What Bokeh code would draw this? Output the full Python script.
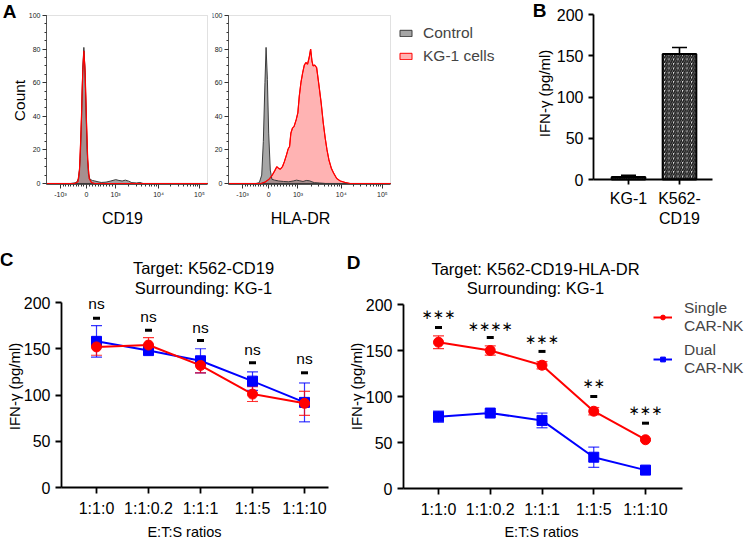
import math
from bokeh.plotting import figure
from bokeh.layouts import row, column
from bokeh.models import (BoxAnnotation, ColumnDataSource, FixedTicker, Label, Legend,
                          LegendItem, LinearAxis, Range1d, TeeHead, Whisker)
from bokeh.core.properties import value
from bokeh.embed import file_html
from bokeh.resources import INLINE

# ---------------- data ----------------
# Panel A: flow histograms; x = display channel (0-1000, biexponential), y = count
hist_tick_pos = [87, 248, 429, 696, 950]
hist_tick_labels = ["-10³", "0", "10³", "10⁴", "10⁵"]
count_ticks = [0, 20, 40, 60, 80, 100]
hist_series = ["Control", "KG-1 cells"]

cd19_ctrl_ch = [0, 150, 185, 200, 210, 218, 225, 232, 238, 245, 252, 260, 270, 285, 300, 320,
                340, 370, 400, 430, 450, 470, 490, 510, 530, 560, 580, 600, 1000]
cd19_ctrl_n = [0, 0, 0.5, 3, 15, 40, 68, 81, 70, 45, 20, 6, 2.5, 1.8, 1.5, 1.0,
               0.6, 0.8, 1.5, 2.3, 1.8, 1.5, 2.0, 1.4, 0.5, 0.3, 0.6, 0, 0]
cd19_kg1_ch = [0, 175, 195, 205, 215, 225, 232, 240, 248, 256, 265, 280, 300, 1000]
cd19_kg1_n = [0, 0, 1, 8, 32, 66, 79, 66, 38, 14, 3, 0.5, 0, 0]

hla_ctrl_ch = [0, 170, 190, 205, 215, 225, 232, 240, 248, 258, 268, 285, 310, 340, 370, 400,
               420, 440, 460, 480, 500, 515, 530, 560, 600, 1000]
hla_ctrl_n = [0, 0, 0.5, 5, 25, 60, 81, 62, 30, 8, 2.5, 2, 1.5, 1.2, 1.0, 1.5,
              2.0, 1.6, 1.2, 1.8, 1.6, 1.0, 0.5, 0.3, 0, 0]
hla_kg1_ch = [0, 200, 225, 250, 270, 285, 298, 310, 320, 333, 345, 358, 368, 377, 385, 395,
              405, 418, 428, 437, 447, 458, 468, 478, 488, 498, 507, 515, 522, 532, 544, 559,
              572, 585, 597, 608, 620, 635, 650, 668, 690, 720, 750, 1000]
hla_kg1_n = [0, 0, 0.8, 2.5, 5, 7.5, 10, 9, 8.5, 10, 13, 17, 20.5, 22, 30, 33,
             34, 38, 42, 52, 60, 66, 70.5, 72, 71, 75, 80, 73, 70, 70.5, 69, 58,
             48, 36, 27, 20, 14, 9, 6, 3, 1.5, 0.6, 0, 0]

# Panel B
b_groups = ["KG-1", "K562-\nCD19"]
b_ifng = [3, 152]
b_err = [2, 8]

# Panels C and D
ratios = ["1:1:0", "1:1:0.2", "1:1:1", "1:1:5", "1:1:10"]
ifng_ticks = [0, 50, 100, 150, 200]
series_names = ["Single\nCAR-NK", "Dual\nCAR-NK"]

c_single = [152, 154, 132, 101, 91]
c_single_err = [9, 8, 8, 8, 13]
c_dual = [158, 148, 137, 115, 92]
c_dual_err = [17, 3, 13, 10, 21]
c_sig = ["ns", "ns", "ns", "ns", "ns"]
c_sig_y = [199, 185, 173, 149, 139]
c_bar_y = [183, 170, 159, 135, 124]

d_single = [159, 150, 134, 84, 53]
d_single_err = [7, 5, 4, 4, 1]
d_dual = [78, 82, 74, 34, 20]
d_dual_err = [6, 1.5, 8, 11, 1]
d_sig = ["∗∗∗", "∗∗∗∗", "∗∗∗", "∗∗", "∗∗∗"]
d_sig_y = [190, 177, 163, 115, 85]
d_bar_y = [175, 164, 149, 100, 71]

# ---------------- layout helpers ----------------
FONT = "Liberation Sans"
RED = "#ff0000"
BLUE = "#0000ff"
TOP = 228
BOT = 540
RIGHT = 744


def fs(v):
    return f"{v:.1f}px"


def make_fig(X0, X1, Y0, Y1, xmap, ymap):
    """Figure whose frame fills the canvas; xmap/ymap = ((data, px), (data, px))."""
    (xa, rxa), (xb, rxb) = xmap
    (ya, rya), (yb, ryb) = ymap
    kx = (xb - xa) / (rxb - rxa)
    ky = (yb - ya) / (ryb - rya)
    p = figure(width=X1 - X0, height=Y1 - Y0,
               x_range=Range1d(xa + (X0 - rxa) * kx, xa + (X1 - rxa) * kx),
               y_range=Range1d(ya + (Y1 - rya) * ky, ya + (Y0 - rya) * ky),
               x_axis_location=None, y_axis_location=None, title=None,
               output_backend="svg", toolbar_location=None,
               min_border_left=0, min_border_right=0, min_border_top=0, min_border_bottom=0)
    for g in p.grid:
        g.visible = False
    p.outline_line_color = None
    p.background_fill_color = None
    p.border_fill_color = None

    def to_data(rx, ry):
        return xa + (rx - rxa) * kx, ya + (ry - rya) * ky

    def to_screen(rx, ry):
        return (rx - X0), (Y1 - ry)

    return p, to_data, to_screen


def add_text(p, to_data, rx, ry, text, size, bold=False, angle=0.0, font=FONT):
    x, y = to_data(rx, ry)
    p.add_layout(Label(x=x, y=y, text=text, text_font=font, text_font_size=fs(size),
                       text_font_style="bold" if bold else "normal", angle=angle,
                       text_align="center", text_baseline="middle", text_color="black"))


def add_axes(p, x_at, x_bounds, y_at, y_bounds, xticker, yticker, style):
    xa = LinearAxis(fixed_location=x_at, bounds=x_bounds, ticker=xticker)
    ya = LinearAxis(fixed_location=y_at, bounds=y_bounds, ticker=yticker)
    for ax in (xa, ya):
        for k, v in style.items():
            setattr(ax, k, v)
    p.add_layout(xa, "below")
    p.add_layout(ya, "left")
    return xa, ya


# ---------------- panel A ----------------
hist_minor = []
for k in range(1, 10):
    hist_minor.append(hist_tick_pos[1] - (hist_tick_pos[1] - hist_tick_pos[0]) * k / 10)
    hist_minor.append(hist_tick_pos[1] + (hist_tick_pos[2] - hist_tick_pos[1]) * k / 10)
for k in range(2, 10):
    hist_minor.append(hist_tick_pos[2] + (hist_tick_pos[3] - hist_tick_pos[2]) * math.log10(k))
    hist_minor.append(hist_tick_pos[3] + (hist_tick_pos[4] - hist_tick_pos[3]) * math.log10(k))

hist_style = dict(axis_line_color="#555555", major_tick_line_color="#333333",
                  minor_tick_line_color="#333333", major_tick_in=0, major_tick_out=4,
                  minor_tick_in=0, minor_tick_out=2, major_label_text_font=FONT,
                  major_label_text_font_size=fs(7), major_label_text_color="#222222",
                  major_label_standoff=2)


def hist_fig(X0, X1, fl, fr, ctrl_x, ctrl_y, kg_x, kg_y):
    p, to_data, to_screen = make_fig(X0, X1, 0, TOP, ((0, fl), (1000, fr)),
                                     ((-0.6, 184), (100, 15)))
    r_kg = p.patch(kg_x, kg_y, fill_color="#ffb3b3", line_color=RED, line_width=1)
    r_ct = p.patch(ctrl_x, ctrl_y, fill_color="#808080", fill_alpha=0.7,
                   line_color="#3a3a3a", line_width=1)
    p.line(kg_x, kg_y, line_color=RED, line_width=1.2)
    p.add_layout(BoxAnnotation(left=0, right=1000, bottom=-0.6, top=100, fill_alpha=0,
                               line_color="#9a9a9a", line_width=1, level="underlay"))
    xa, ya = add_axes(p, -0.6, (0, 1000), 0, (-0.6, 100),
                      FixedTicker(ticks=hist_tick_pos, minor_ticks=hist_minor),
                      FixedTicker(ticks=count_ticks, minor_ticks=list(range(0, 101, 5))),
                      hist_style)
    xa.major_label_overrides = {t: l for t, l in zip(hist_tick_pos, hist_tick_labels)}
    return p, to_data, to_screen, r_ct, r_kg


pA1, dA1, sA1, _, _ = hist_fig(0, 212, 46, 207, cd19_ctrl_ch, cd19_ctrl_n,
                               cd19_kg1_ch, cd19_kg1_n)
add_text(pA1, dA1, 9, 11, "A", 19, bold=True)
add_text(pA1, dA1, 19, 100, "Count", 15.5, angle=math.pi / 2)
add_text(pA1, dA1, 122, 218, "CD19", 16)

pA2, dA2, sA2, r_ct2, r_kg2 = hist_fig(212, 520, 228, 390, hla_ctrl_ch, hla_ctrl_n,
                                       hla_kg1_ch, hla_kg1_n)
add_text(pA2, dA2, 300, 218, "HLA-DR", 16)
legA = Legend(items=[LegendItem(label=hist_series[0], renderers=[r_ct2]),
                     LegendItem(label=hist_series[1], renderers=[r_kg2])],
              location=sA2(398, 66),
              padding=0, margin=0, spacing=3, label_standoff=10,
              glyph_width=15, glyph_height=8, label_height=20,
              label_text_font=FONT, label_text_font_size=fs(15.5),
              border_line_color=None, background_fill_alpha=0)
pA2.add_layout(legA)

# ---------------- panel B ----------------
bar_style = dict(axis_line_color="black", axis_line_width=1.8, major_tick_line_width=1.8,
                 major_tick_in=0, major_tick_out=5, minor_tick_out=0,
                 major_label_text_font=FONT, major_label_text_font_size=fs(16),
                 major_label_text_color="black", major_label_standoff=5)

pB, dB, sB = make_fig(520, RIGHT, 0, TOP, ((0, 628), (1, 679)), ((0, 179), (200, 14)))
b_x = list(range(len(b_groups)))
pB.vbar(x=b_x, top=b_ifng, width=0.66, bottom=0, fill_color="#e8e8e8",
        hatch_pattern="/", hatch_color="#1a1a1a", hatch_scale=4.5, hatch_weight=1.7,
        line_color="black", line_width=2)
b_src = ColumnDataSource(dict(x=b_x, lo=b_ifng, hi=[v + e for v, e in zip(b_ifng, b_err)]))
pB.add_layout(Whisker(base="x", lower="lo", upper="hi", source=b_src, line_color="black",
                      line_width=1.6, level="underlay",
                      upper_head=TeeHead(size=15, line_color="black", line_width=1.6),
                      lower_head=None))
bxa, bya = add_axes(pB, 0, (dB(593, 0)[0], dB(712, 0)[0]), dB(593, 0)[0], (0, 200),
                    FixedTicker(ticks=b_x), FixedTicker(ticks=ifng_ticks), bar_style)
bxa.major_label_standoff = 5
bxa.major_label_overrides = {i: g for i, g in enumerate(b_groups)}
add_text(pB, dB, 539, 10, "B", 19, bold=True)
add_text(pB, dB, 544, 93, "IFN-γ (pg/ml)", 15, angle=math.pi / 2)

# ---------------- panels C & D ----------------
line_style = dict(axis_line_color="black", axis_line_width=1.8, major_tick_line_width=1.8,
                  major_tick_in=0, major_tick_out=6, minor_tick_out=0,
                  major_label_text_font=FONT, major_label_text_font_size=fs(16),
                  major_label_text_color="black", major_label_standoff=5)


def line_fig(X0, X1, axis_left, tick0, tick4, axis_right, y0_px, y200_px):
    p, to_data, to_screen = make_fig(X0, X1, TOP, BOT, ((0, tick0), (4, tick4)),
                                     ((0, y0_px), (200, y200_px)))
    xl = to_data(axis_left, 0)[0]
    xr = to_data(axis_right, 0)[0]
    xa, ya = add_axes(p, 0, (xl, xr), xl, (0, 200),
                      FixedTicker(ticks=list(range(len(ratios)))),
                      FixedTicker(ticks=ifng_ticks), line_style)
    xa.major_label_overrides = {i: r for i, r in enumerate(ratios)}
    xa.major_label_standoff = 6
    return p, to_data, to_screen


def add_series(p, vals, errs, color, marker, size):
    xs = list(range(len(vals)))
    src = ColumnDataSource(dict(x=xs, lo=[v - e for v, e in zip(vals, errs)],
                                hi=[v + e for v, e in zip(vals, errs)]))
    p.add_layout(Whisker(base="x", lower="lo", upper="hi", source=src, line_color=color,
                         line_alpha=0.8, line_width=1.2, level="underlay",
                         upper_head=TeeHead(size=11, line_color=color, line_alpha=0.8,
                                            line_width=1.2),
                         lower_head=TeeHead(size=11, line_color=color, line_alpha=0.8,
                                            line_width=1.2)))
    rl = p.line(xs, vals, line_color=color, line_width=2)
    rm = p.scatter(xs, vals, marker=marker, size=size, fill_color=color, line_color=color)
    return [rl, rm]


def add_sig(p, labels, label_y, bar_y, size, font):
    xs = list(range(len(labels)))
    p.rect(x=xs, y=bar_y, width=7, height=3, width_units="screen", height_units="screen",
           fill_color="black", line_color=None)
    p.text(x=xs, y=label_y, text=labels, text_font=value(font), text_font_size=fs(size),
           text_align="center", text_baseline="middle", text_color="black")


pC, dC, sC = line_fig(0, 345, 61, 96, 304, 328, 487, 302)
add_series(pC, c_dual, c_dual_err, BLUE, "square", 10)
add_series(pC, c_single, c_single_err, RED, "circle", 10)
add_sig(pC, c_sig, c_sig_y, c_bar_y, 15.5, FONT)
add_text(pC, dC, 6, 259, "C", 19, bold=True)
add_text(pC, dC, 203, 267, "Target: K562-CD19", 16.5)
add_text(pC, dC, 203, 287, "Surrounding: KG-1", 16.5)
add_text(pC, dC, 14, 386, "IFN-γ (pg/ml)", 15, angle=math.pi / 2)
add_text(pC, dC, 184, 531, "E:T:S ratios", 14.5)

pD, dD, sD = line_fig(345, RIGHT, 403, 438, 645, 682, 488, 304)
rs = add_series(pD, d_single, d_single_err, RED, "circle", 10)
rd = add_series(pD, d_dual, d_dual_err, BLUE, "square", 10)
add_sig(pD, d_sig, d_sig_y, d_bar_y, 13.5, "DejaVu Sans")
add_text(pD, dD, 353, 262, "D", 19, bold=True)
add_text(pD, dD, 535, 268, "Target: K562-CD19-HLA-DR", 16.5)
add_text(pD, dD, 535, 287, "Surrounding: KG-1", 16.5)
add_text(pD, dD, 356, 386, "IFN-γ (pg/ml)", 15, angle=math.pi / 2)
add_text(pD, dD, 541, 531, "E:T:S ratios", 14.5)
legD = Legend(items=[LegendItem(label=series_names[0], renderers=rs),
                     LegendItem(label=series_names[1], renderers=rd)],
              location=sD(653, 378),
              padding=0, margin=0, spacing=4, label_standoff=12,
              glyph_width=19, glyph_height=12, label_height=38,
              label_text_font=FONT, label_text_font_size=fs(15.5),
              border_line_color=None, background_fill_alpha=0)
pD.add_layout(legD)

layout = column(row(pA1, pA2, pB), row(pC, pD))
open("out.html", "w").write(file_html(layout, INLINE))
